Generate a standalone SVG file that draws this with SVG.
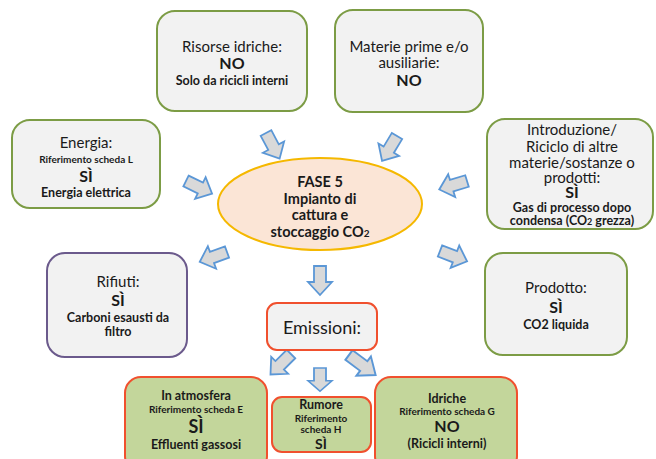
<svg xmlns="http://www.w3.org/2000/svg" width="656" height="459" viewBox="0 0 656 459">
  <style>
    text { font-family: Lato, "Liberation Sans", sans-serif; fill: #1a1a1a; text-anchor: middle; }
    .t { font-size: 15px; }
    .b { font-weight: bold; font-size: 12.5px; }
    .big { font-weight: bold; font-size: 16px; }
    .tiny { font-weight: bold; font-size: 10px; }
    .core-t { font-weight: bold; font-size: 14.5px; }
    .box { fill: #f2f2f2; stroke: #7c9c45; stroke-width: 2; }
    .waste { fill: #f2f2f2; stroke: #6b5a8c; stroke-width: 2; }
    .emi { fill: #f2f2f2; stroke: #f0502e; stroke-width: 2; }
    .emg { fill: #c3d69b; stroke: #f0502e; stroke-width: 2; }
    .core { fill: #fbe5d6; stroke: #f5b800; stroke-width: 2; }
    .arr { fill: #d9d9d9; stroke: #5b97d6; stroke-width: 1.8; stroke-linejoin: miter; }
  </style>
  <defs>
    <!-- block arrow pointing along +x, tail centre at origin -->
    <path id="blk" d="M0,-6 L16,-6 L16,-12 L29,0 L16,12 L16,6 L0,6 Z"/>
  </defs>

  <g id="connectors">
    <use href="#blk" class="arr" transform="translate(266,133) rotate(62)"/>
    <use href="#blk" class="arr" transform="translate(397,136) rotate(121)"/>
    <use href="#blk" class="arr" transform="translate(186,181) rotate(26)"/>
    <use href="#blk" class="arr" transform="translate(467,181) rotate(163)"/>
    <use href="#blk" class="arr" transform="translate(227,252) rotate(160)"/>
    <use href="#blk" class="arr" transform="translate(440,251) rotate(21)"/>
    <use href="#blk" class="arr" transform="translate(320,266) rotate(90)"/>
    <use href="#blk" class="arr" transform="translate(291,354) rotate(135)"/>
    <use href="#blk" class="arr" transform="translate(320,368) rotate(90) scale(0.8,1)"/>
    <use href="#blk" class="arr" transform="translate(349,355) rotate(37) scale(1.15,1)"/>
  </g>

  <g id="risorse-idriche">
    <rect class="box" x="157" y="11" width="150" height="100" rx="18"/>
    <text class="t" x="232" y="52">Risorse idriche:</text>
    <text class="big" x="232" y="69">NO</text>
    <text class="b" x="232" y="85">Solo da ricicli interni</text>
  </g>

  <g id="materie-prime">
    <rect class="box" x="335" y="10" width="148" height="102" rx="18"/>
    <text class="t" x="409" y="52">Materie prime e/o</text>
    <text class="t" x="409" y="68">ausiliarie:</text>
    <text class="big" x="409" y="86">NO</text>
  </g>

  <g id="energia">
    <rect class="box" x="12" y="120" width="148" height="88" rx="18"/>
    <text class="t" x="86" y="148">Energia:</text>
    <text class="tiny" x="86" y="162.5">Riferimento scheda L</text>
    <text class="big" x="86" y="182">SÌ</text>
    <text class="b" x="86" y="196.5">Energia elettrica</text>
  </g>

  <g id="introduzione">
    <rect class="box" x="487" y="119" width="166" height="110" rx="18"/>
    <text class="t" x="572" y="135">Introduzione/</text>
    <text class="t" x="572" y="151.5">Riciclo di altre</text>
    <text class="t" x="572" y="167.5">materie/sostanze o</text>
    <text class="t" x="572" y="182.5">prodotti:</text>
    <text class="big" x="572" y="198">SÌ</text>
    <text class="b" x="572" y="211.5">Gas di processo dopo</text>
    <text class="b" x="572" y="225">condensa (CO<tspan font-size="9">2</tspan> grezza)</text>
  </g>

  <g id="fase5">
    <ellipse class="core" cx="320" cy="204" rx="102" ry="46"/>
    <text class="core-t" x="320" y="187">FASE 5</text>
    <text class="core-t" x="320" y="203.5">Impianto di</text>
    <text class="core-t" x="320" y="220">cattura e</text>
    <text class="core-t" x="320" y="237">stoccaggio CO<tspan font-size="10">2</tspan></text>
  </g>

  <g id="rifiuti">
    <rect class="waste" x="47" y="253" width="140" height="104" rx="18"/>
    <text class="t" x="118" y="287">Rifiuti:</text>
    <text class="big" x="118" y="306">SÌ</text>
    <text class="b" x="118" y="321.5">Carboni esausti da</text>
    <text class="b" x="118" y="335.5">filtro</text>
  </g>

  <g id="prodotto">
    <rect class="box" x="485" y="253" width="142" height="102" rx="18"/>
    <text class="t" x="556" y="293">Prodotto:</text>
    <text class="big" x="556" y="313">SÌ</text>
    <text class="b" x="556" y="328.5">CO2 liquida</text>
  </g>

  <g id="emissioni">
    <rect class="emi" x="267" y="303" width="110" height="47" rx="10"/>
    <text class="t" style="font-size:18px" x="322" y="334">Emissioni:</text>
  </g>

  <g id="atmosfera">
    <rect class="emg" x="125" y="377" width="142" height="95" rx="16"/>
    <text class="b" x="196" y="399.5">In atmosfera</text>
    <text class="tiny" x="196" y="412.5">Riferimento scheda E</text>
    <text class="big" style="font-size:18px" x="196" y="432.5">SÌ</text>
    <text class="b" x="196" y="448.5">Effluenti gassosi</text>
  </g>

  <g id="rumore">
    <rect class="emg" x="272" y="397" width="99" height="55" rx="10"/>
    <text class="b" x="321" y="408.5">Rumore</text>
    <text class="tiny" x="321" y="421.5">Riferimento</text>
    <text class="tiny" x="321" y="432.5">scheda H</text>
    <text class="big" style="font-size:14px" x="321" y="449">SÌ</text>
  </g>

  <g id="idriche">
    <rect class="emg" x="375" y="377" width="142" height="95" rx="16"/>
    <text class="b" x="447" y="402.5">Idriche</text>
    <text class="tiny" x="447" y="414.5">Riferimento scheda G</text>
    <text class="big" x="447" y="432">NO</text>
    <text class="b" x="447" y="447.5">(Ricicli interni)</text>
  </g>
</svg>
